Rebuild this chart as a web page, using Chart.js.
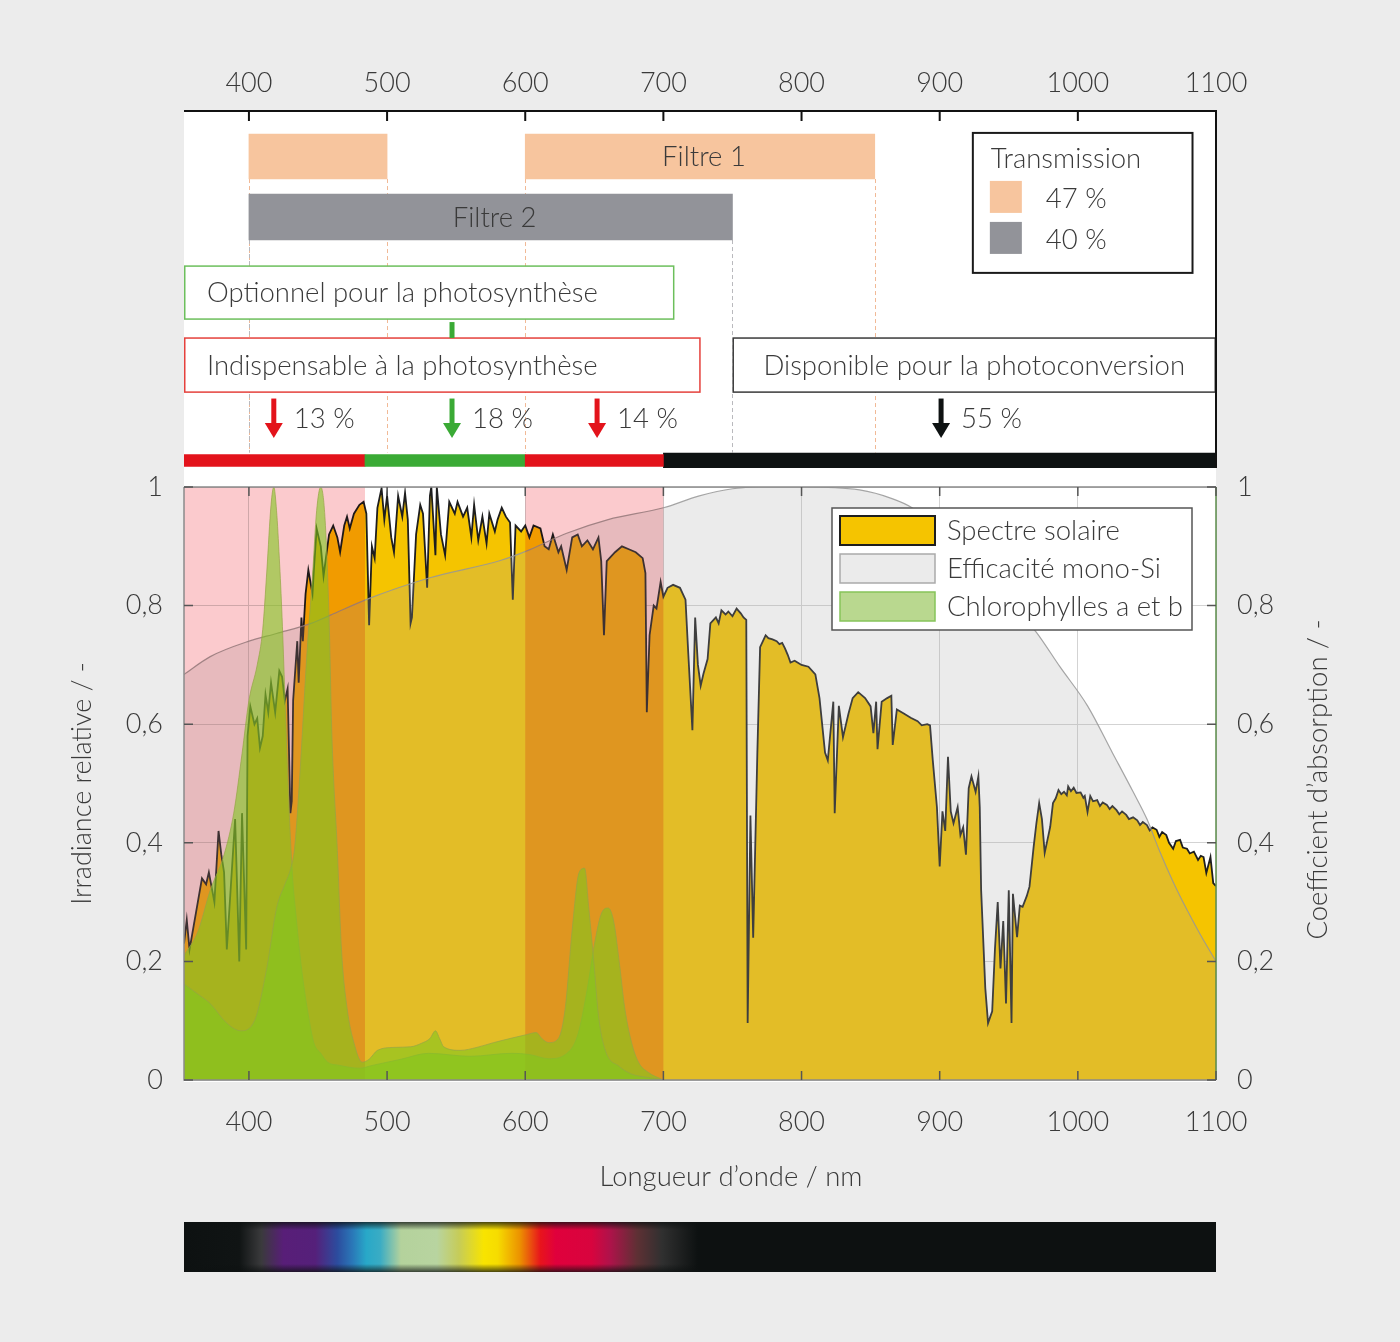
<!DOCTYPE html>
<html lang="fr">
<head>
<meta charset="UTF-8">
<title>Spectre solaire, photosynthèse et photoconversion</title>
<script src="https://cdn.jsdelivr.net/npm/chart.js"></script>
<style>
    body {
        margin: 0;
        background: #ececec;
    }
    #page {
        position: relative;
        width: 1400px;
        height: 1342px;
        overflow: hidden;
    }
    #panel {
        position: absolute;
        left: 184px;
        top: 110px;
        width: 1032px;
        height: 972px;
        background: #fff;
    }
    #topChart {
        position: absolute;
        left: 0;
        top: 40px;
    }
    #mainChart {
        position: absolute;
        left: 0;
        top: 447px;
    }
</style>
</head>
<body>
<div id="page">
    <div id="panel"></div>
    <canvas id="topChart" width="1400" height="440"></canvas>
    <canvas id="mainChart" width="1400" height="843"></canvas>
</div>

<script>
    /***************************
            DATA
    ***************************/

    // wavelength ticks (nm) and irradiance ticks
    const wlTicks = [400, 500, 600, 700, 800, 900, 1000, 1100];
    const valTicks = [0, 0.2, 0.4, 0.6, 0.8, 1];

    // top panel: filter bands (nm)
    const filtre1Ranges = [[400, 500], [600, 853]];
    const filtre2Ranges = [[400, 750]];
    const transmissionLabels = ['47 %', '40 %'];

    // usage zones (nm) and their share of the spectrum
    const zoneRanges = [[353, 484], [484, 600], [600, 700], [700, 1100]];
    const zonePercents = ['13 %', '18 %', '14 %', '55 %'];
    const zoneArrowWl = [418, 547, 652, 901];
    const optionnelRange = [353, 708];
    const indispensableRange = [353, 727];
    const disponibleRange = [750, 1100];

    // red bands shown behind the main chart (nm)
    const redBands = [[353, 484], [600, 700]];

    // solar spectrum, relative irradiance [nm, value]
    const spectreSolaire = [
        [353,0.23],[355,0.27],[357,0.22],[360,0.26],[363,0.30],[366,0.34],[369,0.33],[371,0.35],[375,0.30],[378,0.42],
        [380,0.38],[382,0.35],[384,0.22],[387,0.33],[390,0.44],[393,0.20],[395,0.45],[398,0.22],[399,0.58],[401,0.63],
        [404,0.60],[406,0.61],[408,0.56],[410,0.58],[412,0.65],[414,0.62],[416,0.67],[419,0.62],[422,0.69],[424,0.68],
        [426,0.64],[428,0.66],[430,0.45],[431,0.47],[432,0.64],[435,0.74],[436,0.67],[438,0.78],[439,0.74],[441,0.82],
        [443,0.86],[446,0.82],[447,0.86],[449,0.93],[452,0.90],[454,0.85],[458,0.92],[461,0.935],[464,0.915],[466,0.89],
        [469,0.935],[471,0.95],[473,0.93],[476,0.955],[480,0.97],[483,0.975],[485,0.955],[487,0.767],[489,0.90],[491,0.88],
        [493,0.965],[496,0.998],[498,0.945],[500,0.985],[503,0.915],[505,0.89],[508,0.985],[511,0.95],[513,0.99],[515,0.945],
        [517,0.77],[518,0.78],[521,0.92],[524,0.97],[526,0.955],[529,0.83],[531,0.985],[532,1.0],[535,0.885],[536,1.0],
        [539,0.92],[542,0.885],[545,0.975],[549,0.955],[551,0.975],[555,0.95],[558,0.965],[561,0.915],[563,0.97],[566,0.91],
        [569,0.95],[572,0.905],[574,0.955],[578,0.925],[580,0.945],[583,0.965],[586,0.95],[589,0.94],[591,0.81],[593,0.935],
        [597,0.925],[600,0.935],[603,0.915],[606,0.935],[611,0.93],[614,0.90],[617,0.895],[620,0.92],[624,0.89],[626,0.90],
        [630,0.86],[634,0.915],[638,0.92],[641,0.90],[645,0.91],[649,0.895],[653,0.915],[655,0.875],[657,0.75],[659,0.875],
        [665,0.89],[670,0.90],[675,0.895],[680,0.89],[685,0.88],[687,0.855],[688,0.62],[690,0.75],[693,0.80],[695,0.795],
        [698,0.84],[700,0.815],[703,0.83],[707,0.835],[712,0.83],[716,0.81],[718,0.72],[721,0.59],[723,0.78],[725,0.70],
        [727,0.665],[729,0.685],[732,0.71],[734,0.77],[736,0.775],[738,0.78],[740,0.77],[742,0.792],[745,0.785],[747,0.79],
        [750,0.782],[753,0.795],[756,0.787],[758,0.78],[760,0.776],
        [761,0.096],[763,0.446],[765,0.24],[768,0.55],[770,0.73],[774,0.75],[776,0.745],[779,0.743],[782,0.74],[784,0.735],
        [786,0.737],[788,0.728],[790,0.717],[792,0.704],
        [795,0.707],[800,0.70],[805,0.697],[810,0.684],[813,0.644],[817,0.552],[819,0.539],[823,0.638],[824,0.45],[827,0.631],
        [830,0.578],[834,0.618],[837,0.644],[841,0.654],[846,0.644],[850,0.63],[852,0.585],[854,0.638],[855,0.558],[858,0.638],
        [862,0.644],[865,0.648],[866,0.565],[869,0.625],[874,0.618],[879,0.611],[884,0.605],[887,0.598],[891,0.60],[893,0.598],
        [895,0.539],[898,0.46],[900,0.36],[902,0.453],[904,0.42],[906,0.545],[908,0.453],[910,0.433],[913,0.46],[915,0.413],
        [917,0.426],[919,0.38],[921,0.492],[923,0.512],[926,0.486],[928,0.512],[929,0.46],[930,0.32],[933,0.155],[935,0.096],
        [938,0.116],[940,0.221],[942,0.30],[944,0.188],[946,0.268],[948,0.129],[950,0.32],[952,0.096],[953,0.314],[956,0.241],
        [958,0.294],[960,0.292],[963,0.31],[965,0.326],[968,0.393],[970,0.433],[972,0.467],[974,0.44],[976,0.383],[978,0.405],
        [980,0.427],[982,0.467],[984,0.475],[986,0.489],[988,0.482],[990,0.486],[992,0.48],[993,0.495],[995,0.487],[997,0.493],
        [999,0.484],[1002,0.485],[1004,0.476],[1005,0.479],[1007,0.452],[1009,0.479],[1011,0.47],[1014,0.472],[1016,0.462],[1018,0.468],
        [1021,0.464],[1023,0.457],[1025,0.462],[1028,0.455],[1030,0.448],[1032,0.453],[1035,0.447],[1037,0.44],[1040,0.443],[1043,0.438],
        [1045,0.43],[1047,0.435],[1050,0.43],[1052,0.421],[1054,0.426],[1057,0.422],[1059,0.41],[1061,0.418],[1064,0.413],[1066,0.40],
        [1069,0.39],[1071,0.403],[1074,0.405],[1076,0.392],[1079,0.39],[1081,0.382],[1084,0.385],[1087,0.371],[1089,0.378],[1091,0.376],
        [1093,0.349],[1096,0.376],[1098,0.332],[1100,0.327]
    ];

    // mono-Si efficiency [nm, value]
    const efficaciteMonoSi = [
        [353,0.684],[372,0.714],[400,0.74],[420,0.753],[445,0.77],[459,0.784],[488,0.813],[531,0.847],[582,0.876],[603,0.894],
        [630,0.922],[660,0.945],[700,0.965],[726,0.985],[750,0.997],[770,1.0],[800,1.0],[842,0.995],[866,0.98],[880,0.965],
        [891,0.945],[905,0.915],[920,0.88],[940,0.83],[955,0.795],[970,0.755],[987,0.697],[1007,0.631],[1025,0.552],[1040,0.486],
        [1050,0.44],[1059,0.387],[1069,0.334],[1079,0.287],[1088,0.248],[1100,0.2]
    ];

    // chlorophyll a absorption coefficient [nm, value]
    const chlorophylleA = [
        [353,0.21],[363,0.25],[372,0.32],[382,0.38],[389,0.45],[395,0.55],[400,0.64],[406,0.70],[410,0.76],[413,0.86],
        [416,0.97],[418,1.0],[420,0.96],[422,0.88],[424,0.78],[426,0.65],[428,0.52],[430,0.41],[432,0.33],[434,0.28],
        [437,0.21],[440,0.155],[443,0.11],[447,0.063],[452,0.045],[457,0.03],[465,0.025],[480,0.02],[490,0.025],[510,0.035],
        [530,0.045],[560,0.04],[590,0.045],[603,0.043],[617,0.036],[629,0.043],[638,0.076],[645,0.155],[650,0.228],[655,0.28],
        [660,0.29],[664,0.268],[668,0.2],[672,0.122],[677,0.063],[682,0.03],[689,0.013],[700,0]
    ];

    // chlorophyll b absorption coefficient [nm, value]
    const chlorophylleB = [
        [353,0.162],[363,0.145],[372,0.129],[384,0.096],[394,0.083],[404,0.10],[413,0.19],[420,0.29],[426,0.33],[430,0.355],
        [433,0.39],[437,0.52],[442,0.72],[446,0.85],[449,0.96],[452,1.0],[455,0.95],[458,0.78],[460,0.585],[464,0.387],
        [467,0.22],[471,0.122],[476,0.063],[482,0.03],[487,0.035],[493,0.05],[505,0.055],[517,0.056],[525,0.062],[531,0.07],
        [535,0.083],[538,0.07],[541,0.056],[553,0.05],[565,0.055],[577,0.063],[589,0.07],[600,0.076],[608,0.08],[612,0.07],
        [617,0.063],[624,0.07],[629,0.122],[634,0.254],[639,0.35],[643,0.357],[646,0.29],[650,0.19],[653,0.109],[658,0.05],
        [668,0.023],[677,0.01],[690,0.004],[700,0]
    ];

    // colour strip under the chart [nm, colour]
    const rainbowStops = [
        [353,'#0d1111'],[393,'#101414'],[409,'#3a3a3c'],[425,'#581e78'],[448,'#55207a'],[464,'#2c4c9e'],[475,'#2a78b8'],
        [485,'#28a8c8'],[495,'#3aacc4'],[510,'#b4d29c'],[536,'#b8d4a0'],[552,'#c6cc58'],[570,'#f8e400'],[580,'#f6dc00'],
        [596,'#ec9200'],[611,'#e8141c'],[622,'#e0003c'],[648,'#d8043e'],[661,'#b0124a'],[681,'#5e3034'],[699,'#303030'],
        [725,'#0d1111'],[1100,'#0d1111']
    ];


    /***************************
            STYLE / LAYOUT
    ***************************/

    const FONT = 'Lato, "Open Sans", "DejaVu Sans", sans-serif';
    const INK = '#3a3a3a';
    const RED = '#e3131b';
    const GREEN = '#3aaa35';
    const BLACK = '#0e1212';
    const zoneColors = [RED, GREEN, RED, BLACK];
    const TEXT_SIZE = 27.5;

    // rows of the top panel, in % of its height (0 = top)
    const ROWS = {
        filtre1: 13.0, filtre2: 29.9, zones: 97.9,
        optTop: 43.6, optBottom: 58.4,
        indTop: 63.7, indBottom: 78.8,
        arrowTop: 80.6, arrowTip: 91.6, percent: 86.4,
        legTop: 6.4, legBottom: 45.5
    };

    Chart.defaults.font.family = FONT;
    Chart.defaults.color = INK;

    function cssFont(size) {
        return `300 ${size}px ${FONT}`;
    }

    function fmtTick(v) {
        if (v === 0 || v === 1) return String(v);
        return String(Math.round(v * 10) / 10).replace('.', ',');
    }

    function setWlTicks(scale) {
        scale.ticks = wlTicks.map(v => ({ value: v }));
    }

    function setValTicks(scale) {
        scale.ticks = valTicks.map(v => ({ value: v }));
    }

    function toPoints(pairs) {
        return pairs.map(p => ({ x: p[0], y: p[1] }));
    }


    /***************************
            TOP PANEL
    ***************************/

    function arrow(ctx, px, top, tip, color) {
        ctx.fillStyle = color;
        ctx.fillRect(px - 2.5, top, 5, tip - top - 13);
        ctx.beginPath();
        ctx.moveTo(px - 9, tip - 15);
        ctx.lineTo(px + 9, tip - 15);
        ctx.lineTo(px, tip);
        ctx.closePath();
        ctx.fill();
    }

    const panelPlugin = {
        id: 'panelDecor',

        // dashed guides under the filter bars
        beforeDatasetsDraw(chart) {
            const { ctx, scales: { y } } = chart;
            const stop = y.getPixelForValue(ROWS.zones) - 8;
            ctx.save();
            ctx.setLineDash([4, 3]);
            ctx.lineWidth = 1;
            [[0, '#f1b996'], [1, '#b9b9bd']].forEach(([di, col]) => {
                ctx.strokeStyle = col;
                chart.getDatasetMeta(di).data.forEach(el => {
                    const y0 = el.y + el.height / 2;
                    [el.base, el.x].forEach(px => {
                        const p = Math.round(px) + 0.5;
                        ctx.beginPath();
                        ctx.moveTo(p, y0);
                        ctx.lineTo(p, stop);
                        ctx.stroke();
                    });
                });
            });
            ctx.restore();
        },

        afterDatasetsDraw(chart) {
            const { ctx, chartArea: a, scales: { x, y } } = chart;
            ctx.save();
            ctx.textBaseline = 'middle';

            // filter labels
            ctx.font = cssFont(TEXT_SIZE);
            ctx.fillStyle = INK;
            ctx.textAlign = 'center';
            [[0, 'Filtre 1'], [1, 'Filtre 2']].forEach(([di, txt]) => {
                const els = chart.getDatasetMeta(di).data;
                const el = els[els.length - 1];
                ctx.fillText(txt, (el.x + el.base) / 2 + 4, el.y + 1);
            });

            // boxes
            const box = (range, top, bot, stroke, text, align) => {
                const l = x.getPixelForValue(range[0]);
                const r = x.getPixelForValue(range[1]);
                const t = y.getPixelForValue(top);
                const b = y.getPixelForValue(bot);
                ctx.fillStyle = '#fff';
                ctx.fillRect(l, t, r - l, b - t);
                ctx.strokeStyle = stroke;
                ctx.lineWidth = 1.5;
                ctx.strokeRect(l + 0.75, t, r - l - 1.5, b - t);
                ctx.fillStyle = INK;
                ctx.textAlign = align;
                ctx.fillText(text, align === 'left' ? l + 23 : (l + r) / 2, (t + b) / 2 + 1);
            };
            box(optionnelRange, ROWS.optTop, ROWS.optBottom, '#6cbf5c', 'Optionnel pour la photosynthèse', 'left');
            box(indispensableRange, ROWS.indTop, ROWS.indBottom, '#e5413c', 'Indispensable à la photosynthèse', 'left');
            box(disponibleRange, ROWS.indTop, ROWS.indBottom, '#3a3a3a', 'Disponible pour la photoconversion', 'center');

            // green stem between the two photosynthesis boxes
            const gx = x.getPixelForValue(zoneArrowWl[1]);
            const st = y.getPixelForValue(ROWS.optBottom) + 3;
            ctx.fillStyle = GREEN;
            ctx.fillRect(gx - 2.5, st, 5, y.getPixelForValue(ROWS.indTop) - st);

            // arrows and shares
            zoneArrowWl.forEach((wl, i) => {
                const px = x.getPixelForValue(wl);
                arrow(ctx, px, y.getPixelForValue(ROWS.arrowTop), y.getPixelForValue(ROWS.arrowTip), zoneColors[i]);
                ctx.fillStyle = INK;
                ctx.textAlign = 'left';
                ctx.fillText(zonePercents[i], px + 20, y.getPixelForValue(ROWS.percent));
            });

            // transmission legend
            const L = x.getPixelForValue(924);
            const R = x.getPixelForValue(1083);
            const T = y.getPixelForValue(ROWS.legTop);
            const B = y.getPixelForValue(ROWS.legBottom);
            ctx.strokeStyle = '#1a1a1a';
            ctx.lineWidth = 2;
            ctx.strokeRect(L, T, R - L, B - T);
            ctx.fillStyle = INK;
            ctx.textAlign = 'left';
            ctx.fillText('Transmission', L + 18, T + 26);
            [chart.data.datasets[0].backgroundColor, chart.data.datasets[1].backgroundColor].forEach((c, i) => {
                ctx.fillStyle = c;
                ctx.fillRect(L + 17, T + 48 + i * 41, 32, 32);
                ctx.fillStyle = INK;
                ctx.fillText(transmissionLabels[i], L + 73, T + 66 + i * 41);
            });

            // frame: top axis line with inner ticks, right border
            ctx.strokeStyle = '#111';
            ctx.lineWidth = 2;
            ctx.beginPath();
            ctx.moveTo(a.left, a.top + 1);
            ctx.lineTo(a.right + 1, a.top + 1);
            ctx.moveTo(a.right, a.top);
            ctx.lineTo(a.right, a.bottom);
            wlTicks.forEach(v => {
                const px = x.getPixelForValue(v);
                ctx.moveTo(px, a.top);
                ctx.lineTo(px, a.top + 11);
            });
            ctx.stroke();
            ctx.restore();
        }
    };

    const tickFont = { size: 27, weight: '300' };

    const topChart = new Chart(document.getElementById('topChart'), {
        type: 'bar',
        data: {
            datasets: [
                {
                    label: 'Filtre 1',
                    data: filtre1Ranges.map(r => ({ x: r, y: ROWS.filtre1 })),
                    backgroundColor: '#f7c59e',
                    barThickness: 45,
                    grouped: false
                },
                {
                    label: 'Filtre 2',
                    data: filtre2Ranges.map(r => ({ x: r, y: ROWS.filtre2 })),
                    backgroundColor: '#929399',
                    barThickness: 46,
                    grouped: false
                },
                {
                    label: 'Photosynthèse',
                    data: zoneRanges.slice(0, 3).map(r => ({ x: r, y: ROWS.zones })),
                    backgroundColor: zoneColors.slice(0, 3),
                    barThickness: 12,
                    grouped: false
                },
                {
                    label: 'Photoconversion',
                    data: zoneRanges.slice(3).map(r => ({ x: r, y: ROWS.zones })),
                    backgroundColor: BLACK,
                    barThickness: 15,
                    grouped: false
                }
            ]
        },
        options: {
            indexAxis: 'y',
            responsive: false,
            animation: false,
            layout: { padding: { left: 184, right: 184, top: 0, bottom: 12 } },
            plugins: { legend: { display: false }, tooltip: { enabled: false } },
            scales: {
                x: {
                    type: 'linear',
                    position: 'top',
                    min: 353,
                    max: 1100,
                    afterBuildTicks: setWlTicks,
                    afterFit: s => { s.height = 70; },
                    grid: { display: false },
                    border: { display: false },
                    ticks: {
                        font: tickFont,
                        color: INK,
                        padding: 3,
                        maxRotation: 0,
                        autoSkip: false,
                        callback: v => String(v)
                    }
                },
                y: { type: 'linear', min: 0, max: 100, reverse: true, offset: false, display: false }
            }
        },
        plugins: [panelPlugin]
    });


    /***************************
            MAIN CHART
    ***************************/

    const legendStyles = [
        { fill: '#f5c400', stroke: '#1e1e1e', lw: 2 },
        { fill: '#ebebeb', stroke: '#aaaaaa', lw: 1.5 },
        { fill: '#b9d88f', stroke: '#86c45a', lw: 1.5 }
    ];

    const mainPlugin = {
        id: 'mainDecor',

        beforeDraw(chart) {
            const { ctx, chartArea: a } = chart;
            ctx.save();
            ctx.fillStyle = '#fff';
            ctx.fillRect(a.left, a.top, a.right - a.left, a.bottom - a.top);
            ctx.restore();
        },

        // pink bands tint everything drawn so far (spectrum + efficiency)
        afterDatasetDraw(chart, args) {
            if (args.index !== 1) return;
            const { ctx, chartArea: a, scales: { x } } = chart;
            ctx.save();
            ctx.globalCompositeOperation = 'multiply';
            ctx.fillStyle = '#fbcacd';
            redBands.forEach(b => {
                const l = x.getPixelForValue(b[0]);
                const r = x.getPixelForValue(b[1]);
                ctx.fillRect(l, a.top, r - l, a.bottom - a.top);
            });
            ctx.restore();
        },

        afterDraw(chart) {
            const { ctx, chartArea: a, scales: { x, y } } = chart;
            ctx.save();

            // frame
            ctx.lineWidth = 1.5;
            ctx.strokeStyle = '#8a8a8a';
            ctx.beginPath();
            ctx.moveTo(a.left, a.top);
            ctx.lineTo(a.right, a.top);
            ctx.moveTo(a.left, a.top);
            ctx.lineTo(a.left, a.bottom);
            ctx.lineTo(a.right, a.bottom);
            ctx.stroke();
            ctx.strokeStyle = '#5b8c4a';
            ctx.beginPath();
            ctx.moveTo(a.right, a.top);
            ctx.lineTo(a.right, a.bottom);
            ctx.stroke();

            // inner ticks
            ctx.strokeStyle = '#555';
            ctx.beginPath();
            wlTicks.forEach(v => {
                const px = x.getPixelForValue(v);
                ctx.moveTo(px, a.bottom);
                ctx.lineTo(px, a.bottom - 9);
                ctx.moveTo(px, a.top);
                ctx.lineTo(px, a.top + 9);
            });
            valTicks.forEach(v => {
                const py = y.getPixelForValue(v);
                ctx.moveTo(a.left, py);
                ctx.lineTo(a.left + 9, py);
                ctx.moveTo(a.right, py);
                ctx.lineTo(a.right - 9, py);
            });
            ctx.stroke();

            // legend
            const L = a.right - 384;
            const T = a.top + 21;
            ctx.fillStyle = '#fff';
            ctx.fillRect(L, T, 360, 122);
            ctx.strokeStyle = '#555';
            ctx.lineWidth = 1.5;
            ctx.strokeRect(L, T, 360, 122);
            ctx.font = cssFont(TEXT_SIZE);
            ctx.textBaseline = 'middle';
            ctx.textAlign = 'left';
            legendStyles.forEach((s, i) => {
                const sy = T + 8 + i * 38;
                ctx.fillStyle = s.fill;
                ctx.fillRect(L + 8, sy, 95, 29);
                ctx.strokeStyle = s.stroke;
                ctx.lineWidth = s.lw;
                ctx.strokeRect(L + 8, sy, 95, 29);
                ctx.fillStyle = INK;
                ctx.fillText(chart.data.datasets[i].label, L + 115, sy + 15);
            });

            // x axis title
            ctx.textAlign = 'center';
            ctx.fillText('Longueur d’onde / nm', (a.left + a.right) / 2 + 31, a.bottom + 97);

            // right axis title, read bottom to top like the left one
            ctx.save();
            ctx.translate(a.right + 102, (a.top + a.bottom) / 2 - 4);
            ctx.rotate(-Math.PI / 2);
            ctx.fillText('Coefficient d’absorption / -', 0, 0);
            ctx.restore();

            // colour strip
            const s0 = a.bottom + 142;
            const g = ctx.createLinearGradient(a.left, 0, a.right, 0);
            rainbowStops.forEach(([wl, c]) => {
                const t = (x.getPixelForValue(wl) - a.left) / (a.right - a.left);
                g.addColorStop(Math.min(1, Math.max(0, t)), c);
            });
            ctx.fillStyle = g;
            ctx.fillRect(a.left, s0, a.right - a.left, 50);
            const gt = ctx.createLinearGradient(0, s0, 0, s0 + 8);
            gt.addColorStop(0, 'rgba(13,17,17,0.75)');
            gt.addColorStop(1, 'rgba(13,17,17,0)');
            ctx.fillStyle = gt;
            ctx.fillRect(a.left, s0, a.right - a.left, 8);
            const gb = ctx.createLinearGradient(0, s0 + 50, 0, s0 + 42);
            gb.addColorStop(0, 'rgba(13,17,17,0.75)');
            gb.addColorStop(1, 'rgba(13,17,17,0)');
            ctx.fillStyle = gb;
            ctx.fillRect(a.left, s0 + 42, a.right - a.left, 8);
            ctx.restore();
        }
    };

    const titleFont = { size: 27, weight: '300' };
    const gridStyle = { color: '#d3d3d3', lineWidth: 1, drawTicks: false };

    const mainChart = new Chart(document.getElementById('mainChart'), {
        type: 'line',
        data: {
            datasets: [
                {
                    label: 'Spectre solaire',
                    data: toPoints(spectreSolaire),
                    borderColor: '#1e1e1e',
                    borderWidth: 1.8,
                    backgroundColor: '#f5c400',
                    fill: 'origin',
                    pointRadius: 0,
                    tension: 0,
                    order: 4
                },
                {
                    label: 'Efficacité mono-Si',
                    data: toPoints(efficaciteMonoSi),
                    borderColor: 'rgba(150,150,150,0.85)',
                    borderWidth: 1.2,
                    backgroundColor: 'rgba(167,167,167,0.23)',
                    fill: 'origin',
                    pointRadius: 0,
                    cubicInterpolationMode: 'monotone',
                    order: 3
                },
                {
                    label: 'Chlorophylles a et b',
                    data: toPoints(chlorophylleA),
                    yAxisID: 'y2',
                    borderColor: 'rgba(150,165,70,0.7)',
                    borderWidth: 1,
                    backgroundColor: 'rgba(128,198,30,0.6)',
                    fill: 'origin',
                    pointRadius: 0,
                    cubicInterpolationMode: 'monotone',
                    order: 2
                },
                {
                    label: 'Chlorophylle b',
                    data: toPoints(chlorophylleB),
                    yAxisID: 'y2',
                    borderColor: 'rgba(150,165,70,0.7)',
                    borderWidth: 1,
                    backgroundColor: 'rgba(128,198,30,0.6)',
                    fill: 'origin',
                    pointRadius: 0,
                    cubicInterpolationMode: 'monotone',
                    order: 1
                }
            ]
        },
        options: {
            responsive: false,
            animation: false,
            layout: { padding: { left: 0, right: 0, top: 40, bottom: 0 } },
            plugins: { legend: { display: false }, tooltip: { enabled: false } },
            scales: {
                x: {
                    type: 'linear',
                    position: 'bottom',
                    min: 353,
                    max: 1100,
                    afterBuildTicks: setWlTicks,
                    afterFit: s => { s.height = 210; },
                    grid: gridStyle,
                    border: { display: false },
                    ticks: {
                        font: tickFont,
                        color: INK,
                        padding: 26,
                        maxRotation: 0,
                        autoSkip: false,
                        callback: v => String(v)
                    }
                },
                y: {
                    type: 'linear',
                    position: 'left',
                    min: 0,
                    max: 1,
                    afterBuildTicks: setValTicks,
                    afterFit: s => { s.width = 184; },
                    grid: gridStyle,
                    border: { display: false },
                    ticks: { font: tickFont, color: INK, padding: 21, callback: fmtTick },
                    title: {
                        display: true,
                        text: 'Irradiance relative / -',
                        font: titleFont,
                        color: INK,
                        padding: { top: 66, bottom: 0 }
                    }
                },
                y2: {
                    type: 'linear',
                    position: 'right',
                    min: 0,
                    max: 1,
                    afterBuildTicks: setValTicks,
                    afterFit: s => { s.width = 184; },
                    grid: { display: false, drawTicks: false },
                    border: { display: false },
                    ticks: { font: tickFont, color: INK, padding: 21, callback: fmtTick }
                }
            }
        },
        plugins: [mainPlugin]
    });
</script>
</body>
</html>
